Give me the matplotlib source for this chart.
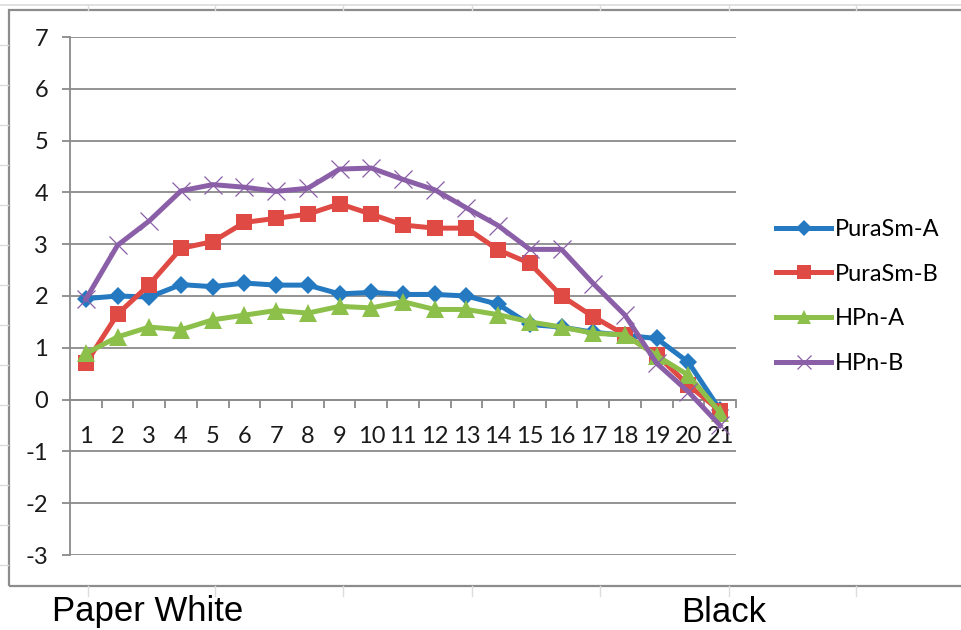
import matplotlib
matplotlib.use("Agg")
import matplotlib.pyplot as plt
from matplotlib.lines import Line2D
from matplotlib.patches import Rectangle

# Tone-step measurements, patch 1 (paper white) to 21 (black)
steps = list(range(1, 22))
pura_a = [1.95, 2.00, 1.98, 2.22, 2.18, 2.25, 2.21, 2.21, 2.04, 2.07, 2.03,
          2.03, 2.00, 1.84, 1.45, 1.40, 1.30, 1.24, 1.18, 0.72, -0.20]
pura_b = [0.70, 1.65, 2.22, 2.92, 3.05, 3.42, 3.50, 3.58, 3.78, 3.58, 3.37,
          3.31, 3.31, 2.89, 2.63, 2.00, 1.60, 1.25, 0.86, 0.28, -0.22]
hpn_a = [0.89, 1.21, 1.40, 1.35, 1.54, 1.63, 1.72, 1.67, 1.80, 1.77, 1.89,
         1.74, 1.74, 1.64, 1.50, 1.40, 1.28, 1.25, 0.85, 0.47, -0.25]
hpn_b = [1.94, 2.98, 3.45, 4.03, 4.15, 4.10, 4.02, 4.08, 4.45, 4.47, 4.25,
         4.05, 3.70, 3.36, 2.90, 2.90, 2.24, 1.63, 0.70, 0.15, -0.50]

series_names = ["PuraSm-A", "PuraSm-B", "HPn-A", "HPn-B"]
series_values = [pura_a, pura_b, hpn_a, hpn_b]
series_colors = ["#2479c1", "#e04a45", "#8dc04a", "#8b5fa8"]
series_markers = ["D", "s", "^", "x"]
series_msize = [9, 12, 12.5, 12.5]

y_ticks = list(range(-3, 8))

W, H = 961, 630
fig = plt.figure(figsize=(W / 100, H / 100), dpi=100)
fig.patch.set_facecolor("white")


def fx(px):
    return px / W


def fy(py):
    return 1 - py / H


# spreadsheet cell lines peeking around the embedded chart
cell_color = "#dcdcdc"
fig.add_artist(Line2D([0, 1], [fy(5), fy(5)], color=cell_color, lw=1.2))
for cx in [88, 215, 343, 472, 600, 729, 856]:
    fig.add_artist(Line2D([fx(cx), fx(cx)], [fy(5), fy(10)], color=cell_color, lw=1))
    fig.add_artist(Line2D([fx(cx), fx(cx)], [fy(586), fy(596)], color=cell_color, lw=1))
for ry in range(45, 586, 40):
    fig.add_artist(Line2D([fx(0), fx(8)], [fy(ry), fy(ry)], color=cell_color, lw=1))

# chart border
fig.add_artist(Rectangle((fx(8.5), fy(586)), fx(970) - fx(8.5), fy(9.5) - fy(586),
                         transform=fig.transFigure, fill=False,
                         edgecolor="#8c8c8c", lw=1.6))

# plot area
ax = fig.add_axes([fx(70), fy(555), fx(736) - fx(70), fy(37) - fy(555)])
ax.set_facecolor("none")
ax.set_xlim(0.5, 21.5)
ax.set_ylim(-3, 7)

grid_color = "#8a8a8a"
for yv in y_ticks:
    ax.axhline(yv, color=grid_color, lw=1.3, zorder=1)

for name, vals, col, mk, ms in zip(series_names, series_values, series_colors,
                                   series_markers, series_msize):
    if mk == "x":
        ax.plot(steps, vals, color=col, lw=3.6, marker=mk, markersize=ms,
                markeredgewidth=0.9, label=name, zorder=3,
                solid_joinstyle="round")
    else:
        ax.plot(steps, vals, color=col, lw=3.6, marker=mk, markersize=ms,
                markeredgewidth=0, label=name, zorder=3,
                solid_joinstyle="round")

for s in ["top", "right"]:
    ax.spines[s].set_visible(False)
ax.spines["left"].set_color(grid_color)
ax.spines["left"].set_linewidth(1.3)
ax.spines["bottom"].set_position(("data", 0))
ax.spines["bottom"].set_color(grid_color)
ax.spines["bottom"].set_linewidth(1.3)

tick_font = dict(family=["Lato", "DejaVu Sans"], size=17)
ax.set_yticks(y_ticks)
ax.set_yticklabels([str(v) for v in y_ticks], fontdict=tick_font, color="#1a1a1a")
ax.tick_params(axis="y", direction="out", length=5.8, width=1.3,
               color=grid_color, pad=10)

ax.set_xticks(steps)
ax.set_xticklabels([str(s) for s in steps], fontdict=tick_font, color="#1a1a1a")
ax.set_xticks([s + 0.5 for s in steps], minor=True)
ax.tick_params(axis="x", which="major", length=0, pad=19)
ax.tick_params(axis="x", which="minor", direction="out", length=5.8,
               width=1.3, color=grid_color)

leg = ax.legend(loc="center left", bbox_to_anchor=(fx(776), fy(296.5)),
                bbox_transform=fig.transFigure, frameon=False,
                prop={"family": ["Lato", "DejaVu Sans"], "size": 17},
                handlelength=2.35, handletextpad=0.15, labelspacing=1.0,
                borderpad=0, borderaxespad=0, markerscale=0.85)

# column captions in the sheet below the chart
fig.text(fx(52), fy(621.5), "Paper White", family=["Liberation Sans", "DejaVu Sans"],
         fontsize=25, va="baseline", ha="left", color="black")
fig.text(fx(681), fy(621.5), "Black", family=["Liberation Sans", "DejaVu Sans"],
         fontsize=25, va="baseline", ha="left", color="black")

fig.savefig("out.png", dpi=100, facecolor="white")
